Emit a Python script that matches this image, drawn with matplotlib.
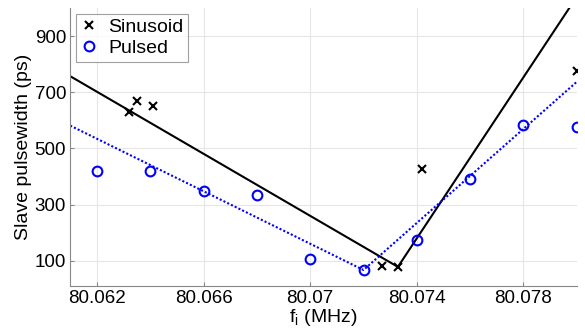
import matplotlib
matplotlib.use("Agg")
import matplotlib.pyplot as plt

plt.rcParams['font.family'] = ['Liberation Sans', 'DejaVu Sans']

# measured slave pulsewidths
sin_f = [80.06322, 80.06351, 80.06411, 80.07271, 80.07329, 80.07421, 80.0800]
sin_w = [630, 670, 651, 80, 78, 426, 777]
pul_f = [80.062, 80.064, 80.066, 80.068, 80.070, 80.072, 80.074, 80.076, 80.078, 80.080]
pul_w = [421, 421, 348, 335, 106, 67, 173, 390, 583, 577]

# V-shaped fits (left end, minimum, right end)
sin_fit_f = [80.061, 80.07329, 80.07972]
sin_fit_w = [757, 78, 1000]
pul_fit_f = [80.061, 80.0720, 80.0800]
pul_fit_w = [581, 67, 737]

xticks = [80.062, 80.066, 80.07, 80.074, 80.078]
xticklabels = ['80.062', '80.066', '80.07', '80.074', '80.078']
yticks = [100, 300, 500, 700, 900]

fig = plt.figure(figsize=(5.85, 3.31), dpi=100)
ax = fig.add_axes([0.12, 0.136, 0.866, 0.84])

ax.plot(sin_fit_f, sin_fit_w, color='black', lw=1.5)
ax.plot(pul_fit_f, pul_fit_w, color='blue', lw=1.5, ls=(0, (1, 1)))
ax.plot(sin_f, sin_w, 'x', color='black', ms=5.5, mew=1.5, label='Sinusoid')
ax.plot(pul_f, pul_w, 'o', color='blue', mfc='none', ms=7, mew=1.5, label='Pulsed')

ax.set_xlim(80.061, 80.080)
ax.set_ylim(10, 1000)
ax.set_xticks(xticks)
ax.set_xticklabels(xticklabels)
ax.set_yticks(yticks)
ax.tick_params(direction='in', length=3, labelsize=13.5, color='#888888', pad=3)
ax.grid(True, color='#e6e6e6', lw=0.8)
ax.set_axisbelow(True)

for s in ['top', 'right']:
    ax.spines[s].set_visible(False)
for s in ['left', 'bottom']:
    ax.spines[s].set_color('#888888')

ax.set_xlabel('f$_\\mathregular{i}$ (MHz)', fontsize=14, labelpad=0)
ax.set_ylabel('Slave pulsewidth (ps)', fontsize=14, labelpad=2)

leg = ax.legend(loc='upper left', fontsize=14, frameon=True, fancybox=False,
                handlelength=0.8, handletextpad=0.6, borderpad=0.25,
                labelspacing=0.15, borderaxespad=0.3)
leg.get_frame().set_edgecolor('#888888')
leg.get_frame().set_linewidth(0.8)

fig.savefig('out.png', dpi=100)
